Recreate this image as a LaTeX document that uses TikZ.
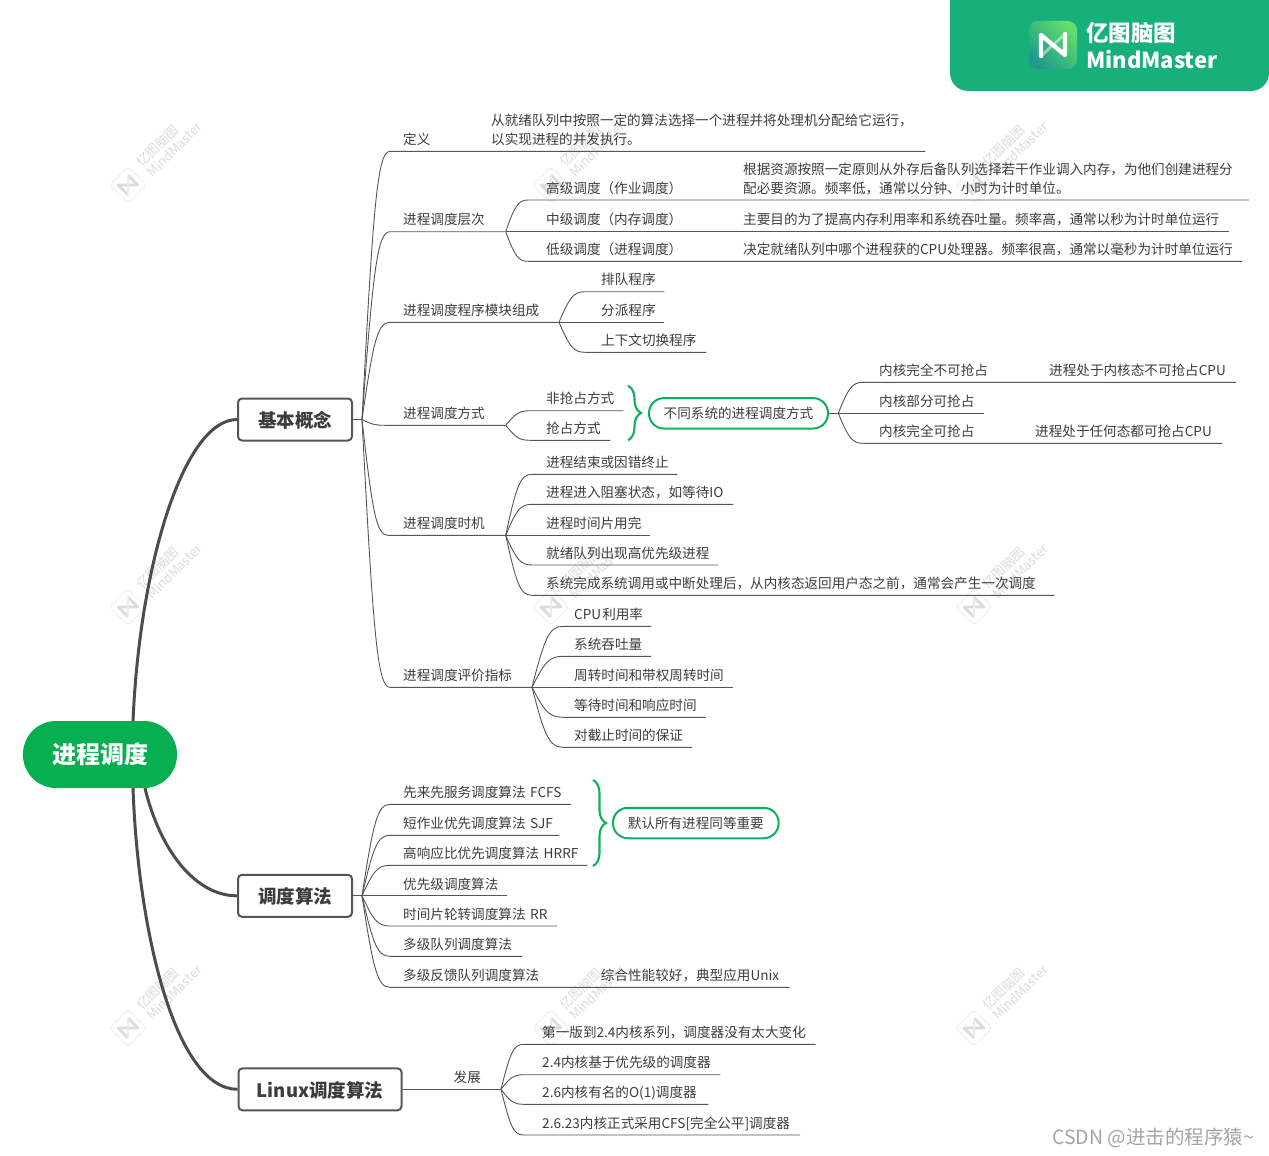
\documentclass[tikz,border=0pt]{standalone}
\usepackage{fontspec}
\setmainfont{Noto Sans CJK SC}
\usetikzlibrary{calc,decorations.pathreplacing}
\definecolor{rootgreen}{HTML}{06B050}
\definecolor{pillgreen}{HTML}{0FB05C}
\definecolor{logogreen}{HTML}{17B07A}
\definecolor{iconlight}{HTML}{62DE6C}
\definecolor{icondark}{HTML}{1E9A8C}
\definecolor{linegray}{HTML}{555555}
\definecolor{textgray}{HTML}{3C3C3C}
\begin{document}
\begin{tikzpicture}[
    x=1pt, y=-1pt,
    leaf/.style={anchor=south west, align=left, inner xsep=0pt, inner ysep=2.6pt, text depth=4pt,
        text=textgray, font=\fontsize{13.6}{18.7}\selectfont},
    twolines/.style={text depth=22.7pt},
    twig/.style={draw=linegray, line width=0.9pt},
    limb/.style={draw=linegray!90!black, line width=3pt},
    topicbox/.style={draw=linegray, line width=2pt, rounded corners=4pt, fill=white, inner sep=0pt,
        minimum height=42pt, text height=16pt, text depth=0pt, text=textgray, font=\fontsize{18.5}{22}\selectfont\bfseries},
    pill/.style={draw=pillgreen, line width=2pt, rounded corners=15pt, inner sep=0pt, minimum height=30.5pt,
        text=textgray, font=\fontsize{13.6}{16}\selectfont},
    greenbrace/.style={draw=pillgreen, line width=2.1pt, decorate, decoration={brace, amplitude=13pt}},
    curvy/.style={to path={let \p1=(\tikztostart), \p2=(\tikztotarget) in
        .. controls ({\x1+0.4*(\x2-\x1)},{\y1+0.8*(\y2-\y1)}) and ({\x1+0.55*(\x2-\x1)},\y2) .. (\p2)}}
]
\useasboundingbox (0,0) rectangle (1269,1156);


\foreach \wx in {128,551,974} {
    \foreach \wy in {185,607,1028} {
        \node[rotate=45, align=left, inner sep=0pt, text=gray!28, font=\fontsize{13}{14.5}\selectfont]
            (wm\wx\wy) at (\wx+41,\wy-41) {亿图脑图\\MindMaster};
        \begin{scope}[shift={(\wx,\wy)}, rotate=45]
            \draw[gray!16, rounded corners=4pt, line width=0.8pt] (-13,-13) rectangle (13,13);
            \draw[gray!28, line width=2.8pt, line join=round] (-7,7) -- (-7,-7) -- (7,7) -- (7,-7);
            \draw[gray!16, line width=1.6pt] (-7,7) -- (7,-7);
        \end{scope}
    }
}


\fill[logogreen, rounded corners=18pt] (950,0) -- (950,91) -- (1269,91) [sharp corners] -- (1269,0) -- cycle;
\shade[rounded corners=9pt, left color=iconlight, right color=icondark, shading angle=-45]
    (1029,21) rectangle (1077,69);
\draw[white, opacity=0.45, line width=3pt, line cap=round] (1041,56) -- (1065,34);
\draw[white, line width=4.4pt, line join=round, line cap=round] (1041,56) -- (1041,35) -- (1065,55) -- (1065,34);
\node[anchor=west, inner sep=0pt, text=white, font=\fontsize{22.5}{24}\selectfont\bfseries] (logocn) at (1086,33) {亿图脑图};
\node[anchor=west, inner sep=0pt, text=white, font=\fontsize{22}{24}\selectfont\bfseries] (logoen) at (1086,60) {MindMaster};


\node[draw=none, fill=rootgreen, rounded corners=33pt, minimum width=154pt, minimum height=67pt, inner sep=0pt,
    text=white, font=\fontsize{24}{28}\selectfont\bfseries] (root) at (100,754.5) {进程调度};
\node[topicbox, minimum width=114pt] (basic) at (295,419.5) {基本概念};
\node[topicbox, minimum width=114pt] (algo) at (295,895.8) {调度算法};
\node[topicbox, minimum width=163pt] (linux) at (320,1089.3) {Linux调度算法};

\draw[limb] ([xshift=33pt]root.north) .. controls (140,560) and (185,419.5) .. (basic.west);
\draw[limb] ([xshift=45pt]root.south) .. controls (160,850) and (195,895.8) .. (algo.west);
\draw[limb] ([xshift=33pt]root.south) .. controls (138,930) and (175,1089.3) .. (linux.west);


\coordinate (hubbasic) at (362,419.5);
\coordinate (hublayer) at (505.7,231.7);
\coordinate (hubparts) at (559,322.3);
\coordinate (hubmodes) at (505.7,425.3);
\coordinate (hubtimes) at (505.7,535.3);
\coordinate (hubindex) at (532,687.3);
\coordinate (hubkernel) at (838.3,413.3);
\coordinate (hubalgo) at (362,895.8);
\coordinate (hubgrow) at (501,1089.3);

\draw[twig] (basic.east) -- (hubbasic);
\draw[twig] (algo.east) -- (hubalgo);
\draw[twig] (linux.east) -- (hubgrow);


\node[leaf] (defin) at (403,151.3) {定义};
\node[leaf, twolines, text width=434pt] (defnote) at (491,151.3) {从就绪队列中按照一定的算法选择一个进程并将处理机分配给它运行，\\以实现进程的并发执行。};
\draw[twig] (hubbasic) to[curvy] ([xshift=-13pt]defin.south west) -- (defnote.south east);

\node[leaf] (layer) at (403,231.7) {进程调度层次};
\draw[twig] (hubbasic) to[curvy] ([xshift=-13pt]layer.south west) -- (hublayer);

\node[leaf] (high) at (546,200) {高级调度（作业调度）};
\node[leaf, twolines, text width=505.6pt] (highnote) at (743,200) {根据资源按照一定原则从外存后备队列选择若干作业调入内存，为他们创建进程分\\配必要资源。频率低，通常以分钟、小时为计时单位。};
\draw[twig] (hublayer) to[curvy] ([xshift=-18pt]high.south west) -- (highnote.south east);

\node[leaf] (mid) at (546,231.7) {中级调度（内存调度）};
\node[leaf, text width=485.6pt] (midnote) at (743,231.7) {主要目的为了提高内存利用率和系统吞吐量。频率高，通常以秒为计时单位运行};
\draw[twig] (hublayer) -- (midnote.south east);

\node[leaf] (low) at (546,261.3) {低级调度（进程调度）};
\node[leaf, text width=499pt] (lownote) at (743,261.3) {决定就绪队列中哪个进程获的CPU处理器。频率很高，通常以毫秒为计时单位运行};
\draw[twig] (hublayer) to[curvy] ([xshift=-18pt]low.south west) -- (lownote.south east);


\node[leaf] (parts) at (403,322.3) {进程调度程序模块组成};
\draw[twig] (hubbasic) to[curvy] ([xshift=-13pt]parts.south west) -- (hubparts);

\node[leaf, text width=63pt] (queue) at (601,291.7) {排队程序};
\draw[twig] (hubparts) to[curvy] ([xshift=-16pt]queue.south west) -- (queue.south east);

\node[leaf, text width=63pt] (dispatch) at (601,322.3) {分派程序};
\draw[twig] (hubparts) -- (dispatch.south east);

\node[leaf, text width=105pt] (switcher) at (601,352.3) {上下文切换程序};
\draw[twig] (hubparts) to[curvy] ([xshift=-16pt]switcher.south west) -- (switcher.south east);


\node[leaf] (modes) at (403,425.3) {进程调度方式};
\draw[twig] (hubbasic) to[curvy] ([xshift=-18pt]modes.south west) -- (hubmodes);

\node[leaf, text width=77pt] (nonpre) at (546,410.7) {非抢占方式};
\draw[twig] (hubmodes) to[curvy] ([xshift=-16pt]nonpre.south west) -- (nonpre.south east);

\node[leaf, text width=64pt] (pre) at (546,440.3) {抢占方式};
\draw[twig] (hubmodes) to[curvy] ([xshift=-16pt]pre.south west) -- (pre.south east);

\coordinate (modestop) at (628,385.7);
\coordinate (modesend) at (628,440.3);
\draw[greenbrace] (modestop) -- (modesend);

\node[pill, minimum width=179pt] (system) at (738.5,413.3) {不同系统的进程调度方式};
\draw[twig] (system.east) -- (hubkernel);

\node[leaf] (kernone) at (879,382.3) {内核完全不可抢占};
\node[leaf, text width=186.7pt] (kernonenote) at (1049,382.3) {进程处于内核态不可抢占CPU};
\draw[twig] (hubkernel) to[curvy] ([xshift=-16pt]kernone.south west) -- (kernonenote.south east);

\node[leaf, text width=104.3pt] (kernpart) at (879,413.3) {内核部分可抢占};
\draw[twig] (hubkernel) -- (kernpart.south east);

\node[leaf] (kernfull) at (879,443.3) {内核完全可抢占};
\node[leaf, text width=186.7pt] (kernfullnote) at (1035,443.3) {进程处于任何态都可抢占CPU};
\draw[twig] (hubkernel) to[curvy] ([xshift=-16pt]kernfull.south west) -- (kernfullnote.south east);


\node[leaf] (times) at (403,535.3) {进程调度时机};
\draw[twig] (hubbasic) to[curvy] ([xshift=-15pt]times.south west) -- (hubtimes);

\node[leaf, text width=131pt] (finish) at (546,474.3) {进程结束或因错终止};
\draw[twig] (hubtimes) to[curvy] ([xshift=-14pt]finish.south west) -- (finish.south east);

\node[leaf, text width=187pt] (blocked) at (546,504.3) {进程进入阻塞状态，如等待IO};
\draw[twig] (hubtimes) to[curvy] ([xshift=-14pt]blocked.south west) -- (blocked.south east);

\node[leaf, text width=104pt] (slice) at (546,535.3) {进程时间片用完};
\draw[twig] (hubtimes) -- (slice.south east);

\node[leaf, text width=172pt] (ready) at (546,565) {就绪队列出现高优先级进程};
\draw[twig] (hubtimes) to[curvy] ([xshift=-14pt]ready.south west) -- (ready.south east);

\node[leaf, text width=508pt] (syscall) at (546,595.3) {系统完成系统调用或中断处理后，从内核态返回用户态之前，通常会产生一次调度};
\draw[twig] (hubtimes) to[curvy] ([xshift=-14pt]syscall.south west) -- (syscall.south east);


\node[leaf] (index) at (403,687.3) {进程调度评价指标};
\draw[twig] (hubbasic) to[curvy] ([xshift=-13pt]index.south west) -- (hubindex);

\node[leaf, text width=76.7pt] (cpuuse) at (574,626.3) {CPU\hspace{1pt}利用率};
\draw[twig] (hubindex) to[curvy] ([xshift=-11pt]cpuuse.south west) -- (cpuuse.south east);

\node[leaf, text width=76.7pt] (through) at (574,656.3) {系统吞吐量};
\draw[twig] (hubindex) to[curvy] ([xshift=-11pt]through.south west) -- (through.south east);

\node[leaf, text width=158.7pt] (turnover) at (574,687.3) {周转时间和带权周转时间};
\draw[twig] (hubindex) -- (turnover.south east);

\node[leaf, text width=131.3pt] (waiting) at (574,717.3) {等待时间和响应时间};
\draw[twig] (hubindex) to[curvy] ([xshift=-11pt]waiting.south west) -- (waiting.south east);

\node[leaf, text width=117.7pt] (deadline) at (574,747.3) {对截止时间的保证};
\draw[twig] (hubindex) to[curvy] ([xshift=-11pt]deadline.south west) -- (deadline.south east);


\node[leaf, text width=167.7pt] (fcfs) at (403,804.3) {先来先服务调度算法 FCFS};
\draw[twig] (hubalgo) to[curvy] ([xshift=-13pt]fcfs.south west) -- (fcfs.south east);

\node[leaf, text width=156pt] (sjf) at (403,835.3) {短作业优先调度算法 SJF};
\draw[twig] (hubalgo) to[curvy] ([xshift=-13pt]sjf.south west) -- (sjf.south east);

\node[leaf, text width=184pt] (hrrf) at (403,865.3) {高响应比优先调度算法 HRRF};
\draw[twig] (hubalgo) to[curvy] ([xshift=-13pt]hrrf.south west) -- (hrrf.south east);

\node[leaf, text width=104pt] (prior) at (403,895.8) {优先级调度算法};
\draw[twig] (hubalgo) -- (prior.south east);

\node[leaf, text width=153.7pt] (rr) at (403,926) {时间片轮转调度算法 RR};
\draw[twig] (hubalgo) to[curvy] ([xshift=-13pt]rr.south west) -- (rr.south east);

\node[leaf, text width=118.7pt] (multi) at (403,956.3) {多级队列调度算法};
\draw[twig] (hubalgo) to[curvy] ([xshift=-13pt]multi.south west) -- (multi.south east);

\node[leaf] (feedback) at (403,987.3) {多级反馈队列调度算法};
\node[leaf, text width=188.6pt] (feednote) at (600.7,987.3) {综合性能较好，典型应用Unix};
\draw[twig] (hubalgo) to[curvy] ([xshift=-13pt]feedback.south west) -- (feednote.south east);

\coordinate (algotop) at (593,780);
\coordinate (algoend) at (593,866);
\draw[greenbrace] (algotop) -- (algoend);

\node[pill, minimum width=165.7pt] (equal) at (695.8,823) {默认所有进程同等重要};


\node[leaf] (grow) at (453.5,1089.3) {发展};

\node[leaf, text width=273.3pt] (first) at (542,1044.3) {第一版到2.4内核系列，调度器没有太大变化};
\draw[twig] (hubgrow) to[curvy] ([xshift=-18.5pt]first.south west) -- (first.south east);

\node[leaf, text width=178pt] (second) at (542,1074.7) {2.4内核基于优先级的调度器};
\draw[twig] (hubgrow) to[curvy] ([xshift=-18.5pt]second.south west) -- (second.south east);

\node[leaf, text width=166pt] (third) at (542,1104.3) {2.6内核有名的O(1)调度器};
\draw[twig] (hubgrow) to[curvy] ([xshift=-18.5pt]third.south west) -- (third.south east);

\node[leaf, text width=257.8pt] (fourth) at (542,1135) {2.6.23内核正式采用CFS[完全公平]调度器};
\draw[twig] (hubgrow) to[curvy] ([xshift=-18.5pt]fourth.south west) -- (fourth.south east);


\node[anchor=west, inner sep=0pt, text=gray!72, font=\fontsize{19.5}{22}\selectfont] (csdn) at (1052,1137.5) {CSDN @进击的程序猿\textasciitilde};

\end{tikzpicture}
\end{document}
